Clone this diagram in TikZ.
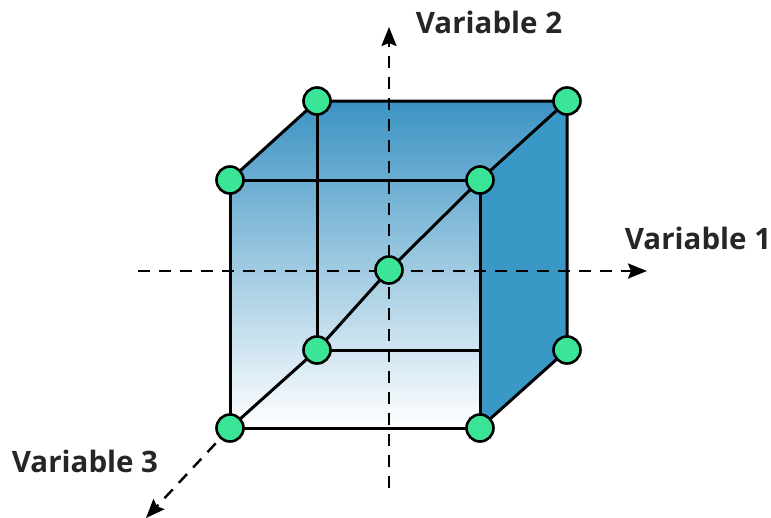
\documentclass[tikz,border=0pt]{standalone}
\usepackage{fontspec}
\setmainfont{Open Sans}
\usetikzlibrary{arrows.meta}
\definecolor{cubeblue}{HTML}{3A98C6}
\definecolor{topblue}{HTML}{3B93C3}
\definecolor{nodegreen}{HTML}{3AE597}
\definecolor{labelgray}{HTML}{262626}
\tikzset{
  edge/.style={line width=3pt, black},
  axis/.style={line width=2.4pt, black, dash pattern=on 12pt off 9pt, -{Stealth[length=19pt,width=15pt,inset=3pt]}},
  vertex/.style={circle, fill=nodegreen, draw=black, line width=2.6pt, minimum size=27pt, inner sep=0pt},
  axislabel/.style={font=\fontsize{29.5}{32}\selectfont\bfseries, text=labelgray, inner sep=0pt}
}
\begin{document}
\begin{tikzpicture}[x=1pt,y=-1pt]
\useasboundingbox (0,0) rectangle (771,517);
% coordinates
\coordinate (ftl) at (230,180);
\coordinate (ftr) at (480,180);
\coordinate (fbl) at (230,428);
\coordinate (fbr) at (480,428);
\coordinate (btl) at (317,101);
\coordinate (btr) at (567,101);
\coordinate (bbl) at (317,350);
\coordinate (bbr) at (567,350);
\coordinate (ctr) at (389,270);
\coordinate (hidj) at (480,350);
% faces
\fill[top color=topblue, bottom color=white] (btl) -- (btr) -- (ftr) -- (fbr) -- (fbl) -- (ftl) -- cycle;
\fill[cubeblue] (ftr) -- (btr) -- (bbr) -- (fbr) -- cycle;
% axes
\coordinate (vbot) at (389,488);
\coordinate (vtop) at (389,27);
\coordinate (hleft) at (138,271);
\coordinate (hright) at (647,271);
\coordinate (dtip) at (146,518);
\draw[axis] (vbot) -- (vtop);
\draw[axis] (hleft) -- (hright);
\draw[axis] (fbl) -- (dtip);
% edges
\draw[edge] (ftl) rectangle (fbr);
\draw[edge] (ftl) -- (btl) -- (btr) -- (bbr) -- (fbr);
\draw[edge] (btr) -- (ftr);
\draw[edge] (btl) -- (bbl) -- (hidj);
\draw[edge] (ftr) -- (ctr) -- (bbl) -- (fbl);
% vertices
\node[vertex] (n1) at (ftl) {};
\node[vertex] (n2) at (ftr) {};
\node[vertex] (n3) at (fbl) {};
\node[vertex] (n4) at (fbr) {};
\node[vertex] (n5) at (btl) {};
\node[vertex] (n6) at (btr) {};
\node[vertex] (n7) at (bbl) {};
\node[vertex] (n8) at (bbr) {};
\node[vertex] (n9) at (ctr) {};
% labels
\node[axislabel] (l2) at (489,22) {Variable 2};
\node[axislabel] (l1) at (698,238) {Variable 1};
\node[axislabel] (l3) at (85,461) {Variable 3};
\end{tikzpicture}
\end{document}
